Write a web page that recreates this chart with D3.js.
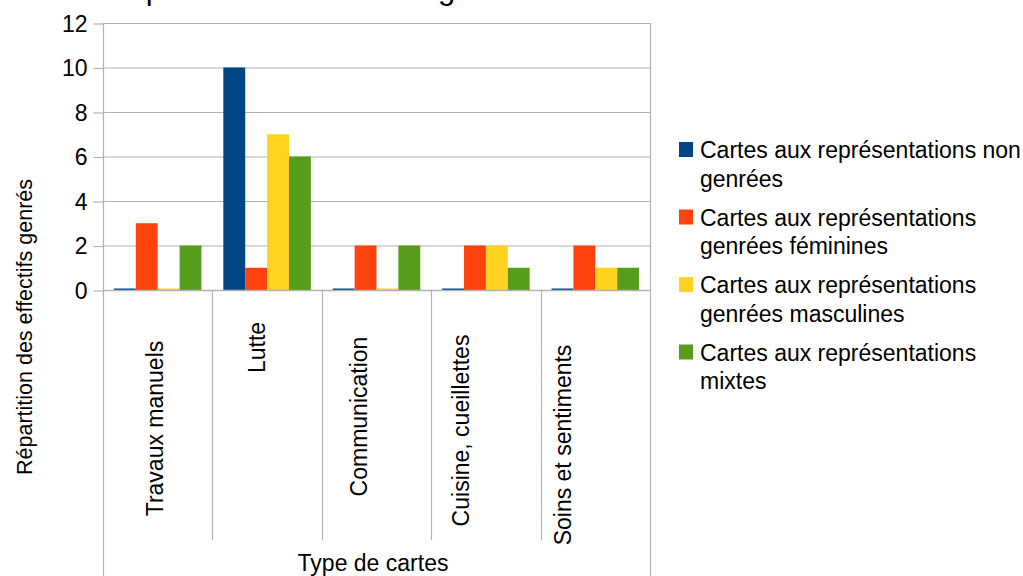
<!DOCTYPE html>
<html><head><meta charset="utf-8">
<script src="https://cdn.jsdelivr.net/npm/d3@7"></script>
<style>
html,body{margin:0;padding:0;background:#fff;}
svg{display:block;font-family:"Liberation Sans",Arial,sans-serif;}
</style></head>
<body>
<svg id="c" width="1023" height="576"></svg>
<script>
// ---- data ----
const categories = ["Travaux manuels","Lutte","Communication","Cuisine, cueillettes","Soins et sentiments"];
const seriesNames = [
  "Cartes aux représentations non genrées",
  "Cartes aux représentations genrées féminines",
  "Cartes aux représentations genrées masculines",
  "Cartes aux représentations mixtes"
];
const nonGenrees = [0,10,0,0,0];
const feminines  = [3,1,2,2,2];
const masculines = [0,7,0,2,1];
const mixtes     = [2,6,2,1,1];
const yTicks = [0,2,4,6,8,10,12];
const legendLines = [
  ["Cartes aux représentations non","genrées"],
  ["Cartes aux représentations","genrées féminines"],
  ["Cartes aux représentations","genrées masculines"],
  ["Cartes aux représentations","mixtes"]
];
const titleText = "Répartition des effectifs genrés";
const yTitle = "Répartition des effectifs genrés";
const xTitle = "Type de cartes";

// ---- layout ----
const colors = ["#004586","#ff420e","#ffd320","#579d1c"];
const seriesValues = [nonGenrees, feminines, masculines, mixtes];
const L = 103, R = 650, T = 23, B = 290;
const grid = "#b3b3b3";
const labelMid = [428.5, 347.5, 416.5, 430.5, 445];

const svg = d3.select("#c");
const x = d3.scaleBand().domain(categories).range([L,R]).paddingInner(0.2).paddingOuter(0.1);
const xs = d3.scaleBand().domain(seriesNames).range([0,x.bandwidth()]).padding(0);
const y = d3.scaleLinear().domain([0,12]).range([B,T]);
const step = x.step();

// title (cut off at top)
svg.append("text").attr("x",106).attr("y",-1).attr("font-size",31)
  .attr("fill","#000").text(titleText);

// gridlines
svg.append("g").selectAll("line").data(yTicks).join("line")
  .attr("x1",L).attr("x2",R).attr("y1",d=>y(d)+0.5).attr("y2",d=>y(d)+0.5)
  .attr("stroke",grid).attr("stroke-width",1.2);

// y axis
const yAxis = svg.append("g").attr("transform",`translate(${L+0.5},0)`)
  .call(d3.axisLeft(y).tickValues(yTicks).tickSize(10).tickPadding(6).tickFormat(d3.format("d")));
yAxis.select(".domain").remove();
yAxis.selectAll(".tick line").attr("stroke",grid).attr("stroke-width",1.2).attr("transform","translate(0,0.5)");
yAxis.selectAll(".tick text").attr("font-size",23).attr("fill","#000")
  .attr("font-family","Liberation Sans, Arial, sans-serif").attr("dy","0.35em");

// vertical lines: outer ones to bottom, inner dividers to 540
const bounds = d3.range(categories.length+1).map(i=>L + i*step);
svg.append("g").selectAll("line").data(bounds).join("line")
  .attr("x1",d=>Math.round(d)+0.5).attr("x2",d=>Math.round(d)+0.5)
  .attr("y1",(d,i)=> (i===0||i===categories.length)? T : B)
  .attr("y2",(d,i)=> (i===0||i===categories.length)? 576 : 540)
  .attr("stroke",grid).attr("stroke-width",1.2);

// bars
seriesNames.forEach((s,si)=>{
  svg.append("g").selectAll("rect").data(categories).join("rect")
    .attr("x",(c)=>x(c)+xs(s))
    .attr("width",xs.bandwidth())
    .attr("y",(c,i)=> seriesValues[si][i]===0 ? y(0)-1.5 : y(seriesValues[si][i]))
    .attr("height",(c,i)=> seriesValues[si][i]===0 ? 1.5 : y(0)-y(seriesValues[si][i]))
    .attr("fill",colors[si]);
});

// x axis line
svg.append("line").attr("x1",L).attr("x2",R).attr("y1",B+0.5).attr("y2",B+0.5)
  .attr("stroke",grid).attr("stroke-width",1.5);

// category labels (rotated)
const labelX = d3.scalePoint().domain(categories).range([163,571]);
svg.append("g").selectAll("text").data(categories).join("text")
  .attr("transform",(c,i)=>`translate(${labelX(c)},${labelMid[i]}) rotate(-90)`)
  .attr("text-anchor","middle").attr("font-size",23).attr("fill","#000").text(d=>d);

// axis titles
svg.append("text").attr("transform","translate(32,327) rotate(-90)")
  .attr("text-anchor","middle").attr("font-size",21.5).attr("fill","#000").text(yTitle);
svg.append("text").attr("x",373).attr("y",571).attr("text-anchor","middle")
  .attr("font-size",23).attr("fill","#000").text(xTitle);

// legend
const lg = svg.append("g");
legendLines.forEach((lines,i)=>{
  const cy = 150 + i*67.5;
  lg.append("rect").attr("x",679).attr("y",cy-8).attr("width",14).attr("height",15).attr("fill",colors[i]);
  lines.forEach((t,j)=>{
    lg.append("text").attr("x",700).attr("y",cy+8+j*28.5).attr("font-size",23).attr("fill","#000").text(t);
  });
});
</script>
</body></html>
